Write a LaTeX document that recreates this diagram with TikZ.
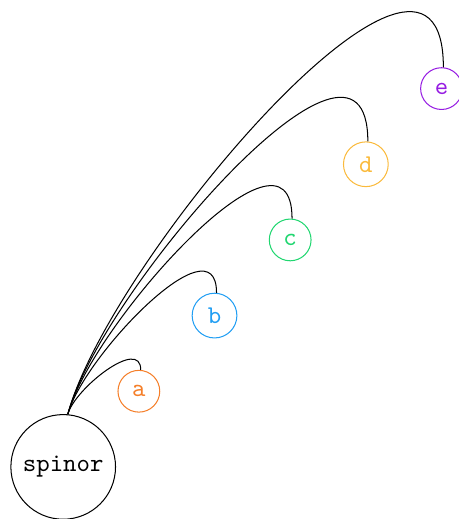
\documentclass[tikz,border=0pt]{standalone}
\usepackage{tikz}

\definecolor{cola}{RGB}{245,127,42}
\definecolor{colb}{RGB}{33,158,243}
\definecolor{colc}{RGB}{32,214,112}
\definecolor{cold}{RGB}{250,186,60}
\definecolor{cole}{RGB}{150,28,226}

\begin{document}
\begin{tikzpicture}[node distance=41.8pt,
	root/.style={circle,draw,font=\ttfamily},
	leaf/.style={circle,draw=#1,text=#1,font=\ttfamily},
	hook/.style={out=75,in=90,out looseness=0.8}]
\useasboundingbox (-24.69pt,-20.35pt) rectangle (154.6pt,182.4pt);
\node[root]		(spinor)			{spinor};
\node[leaf=cola]	(a)	[above right of=spinor]	{a};
\node[leaf=colb]	(b)	[above right of=a]	{b};
\node[leaf=colc]	(c)	[above right of=b]	{c};
\node[leaf=cold]	(d)	[above right of=c]	{d};
\node[leaf=cole]	(e)	[above right of=d]	{e};
\path		(spinor.85)	edge [hook]	(a.85)
				edge [hook]	(b.85)
				edge [hook]	(c.85)
				edge [hook]	(d.85)
				edge [hook]	(e.85);
\end{tikzpicture}
\end{document}
